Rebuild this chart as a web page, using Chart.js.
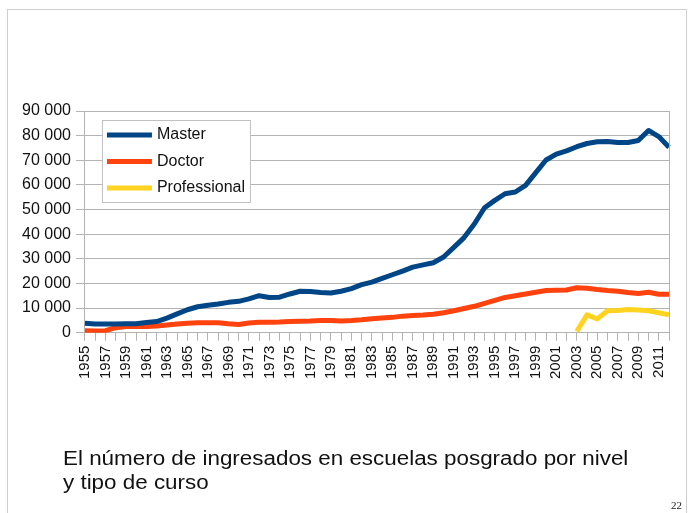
<!DOCTYPE html>
<html>
<head>
<meta charset="utf-8">
<script src="https://cdn.jsdelivr.net/npm/chart.js@4/dist/chart.umd.min.js"></script>
<style>
  body { margin: 0; background: #fff; width: 695px; height: 513px; overflow: hidden; position: relative; font-family: "Liberation Sans", Arial, sans-serif; }
  #frame { position: absolute; left: 7px; top: 9px; width: 680px; height: 520px; border: 1px solid #cfcfcf; box-sizing: border-box; }
  #wrap { position: absolute; left: 0; top: 0; width: 695px; height: 513px; }
  #caption { position: absolute; left: 63px; top: 446px; font-size: 20px; line-height: 24px; color: #111; transform: scaleX(1.12); transform-origin: left top; white-space: nowrap; }
  #page { position: absolute; left: 671px; top: 499px; font-family: "Liberation Serif", serif; font-size: 11px; color: #222; }
</style>
</head>
<body>
<div id="frame"></div>
<div id="wrap"><canvas id="chart"></canvas></div>
<div id="caption">El número de ingresados en escuelas posgrado por nivel<br>y tipo de curso</div>
<div id="page">22</div>
<script>
// years 1955..2012
const years = ['1955','1956','1957','1958','1959','1960','1961','1962','1963','1964',
  '1965','1966','1967','1968','1969','1970','1971','1972','1973','1974',
  '1975','1976','1977','1978','1979','1980','1981','1982','1983','1984',
  '1985','1986','1987','1988','1989','1990','1991','1992','1993','1994',
  '1995','1996','1997','1998','1999','2000','2001','2002','2003','2004',
  '2005','2006','2007','2008','2009','2010','2011','2012'];

const master = [3800, 3550, 3500, 3500, 3600, 3600, 4100, 4500, 5900, 7600,
  9300, 10500, 11100, 11600, 12300, 12700, 13700, 15000, 14300, 14400,
  15700, 16800, 16700, 16300, 16100, 16800, 17900, 19500, 20500, 22000,
  23500, 25000, 26600, 27500, 28400, 30700, 34600, 38600, 44100, 50700,
  53700, 56400, 57100, 59800, 65000, 70100, 72500, 73800, 75500, 76800,
  77500, 77600, 77200, 77200, 78000, 82100, 79600, 75300];

const doctor = [800, 700, 800, 2000, 2500, 2500, 2500, 2700, 3100, 3500,
  3800, 4000, 4000, 4000, 3600, 3300, 3900, 4200, 4200, 4300,
  4500, 4600, 4700, 4900, 4900, 4700, 4900, 5200, 5600, 5900,
  6200, 6700, 7000, 7200, 7500, 8100, 8900, 9800, 10700, 11900,
  13100, 14300, 15000, 15700, 16400, 17100, 17200, 17300, 18200, 18000,
  17500, 17100, 16800, 16300, 15900, 16400, 15600, 15600];

const professional = [null, null, null, null, null, null, null, null, null, null,
  null, null, null, null, null, null, null, null, null, null,
  null, null, null, null, null, null, null, null, null, null,
  null, null, null, null, null, null, null, null, null, null,
  null, null, null, null, null, null, null, null, 500, 7200,
  5600, 8900, 9000, 9400, 9200, 8900, 8100, 7200];

const seriesNames = ['Master', 'Doctor', 'Professional'];
const seriesColors = ['#004586', '#ff420e', '#ffd320'];

const gridColor = '#b3b3b3';
const xFont = { family: '"Liberation Sans", Arial, sans-serif', size: 15 };
const yFont = { family: '"Liberation Sans", Arial, sans-serif', size: 16 };

function fmt(v) {
  return String(v).replace(/\B(?=(\d{3})+(?!\d))/g, ' ');
}

// legend box drawn inside the plot, plus right border of the plot
const insideLegend = {
  id: 'insideLegend',
  afterDraw(chart) {
    const ctx = chart.ctx;
    const a = chart.chartArea;
    ctx.save();
    ctx.strokeStyle = gridColor;
    ctx.lineWidth = 1;
    ctx.beginPath();
    ctx.moveTo(Math.round(a.right) + 0.5, a.top);
    ctx.lineTo(Math.round(a.right) + 0.5, a.bottom);
    ctx.stroke();

    const bx = a.left + 17, by = a.top + 9, bw = 148, bh = 82;
    ctx.fillStyle = '#fff';
    ctx.fillRect(bx, by, bw, bh);
    ctx.strokeStyle = '#c0c0c0';
    ctx.strokeRect(bx + 0.5, by + 0.5, bw, bh);
    ctx.font = '16px "Liberation Sans", Arial, sans-serif';
    ctx.textBaseline = 'middle';
    chart.data.datasets.forEach((ds, i) => {
      const y = by + 15 + i * 26.5;
      ctx.strokeStyle = ds.borderColor;
      ctx.lineWidth = 5;
      ctx.beginPath();
      ctx.moveTo(bx + 5, y);
      ctx.lineTo(bx + 50, y);
      ctx.stroke();
      ctx.fillStyle = '#111';
      ctx.fillText(ds.label, bx + 55, y);
    });
    ctx.restore();
  }
};

const datasets = [master, doctor, professional].map((d, i) => ({
  label: seriesNames[i],
  data: d,
  borderColor: seriesColors[i],
  backgroundColor: seriesColors[i],
  borderWidth: 5,
  pointRadius: 0,
  tension: 0,
  borderJoinStyle: 'round',
  spanGaps: false
}));

new Chart(document.getElementById('chart'), {
  type: 'line',
  data: { labels: years, datasets: datasets },
  options: {
    responsive: true,
    maintainAspectRatio: false,
    animation: false,
    layout: { padding: { left: 17, right: 26, top: 111, bottom: 129 } },
    plugins: { legend: { display: false }, tooltip: { enabled: false } },
    scales: {
      x: {
        offset: false,
        grid: { display: true, drawOnChartArea: false, drawTicks: true, tickLength: 8, color: gridColor },
        border: { color: gridColor },
        ticks: {
          autoSkip: false, maxRotation: 90, minRotation: 90, padding: 5,
          color: '#111', font: xFont,
          callback: function(v, i) { return i % 2 === 0 ? years[i] : ''; }
        }
      },
      y: {
        min: 0, max: 90000,
        grid: { color: gridColor, tickLength: 9 },
        border: { color: gridColor },
        ticks: { stepSize: 10000, padding: 5, color: '#111', font: yFont, callback: v => fmt(v) }
      }
    }
  },
  plugins: [insideLegend]
});
</script>
</body>
</html>
